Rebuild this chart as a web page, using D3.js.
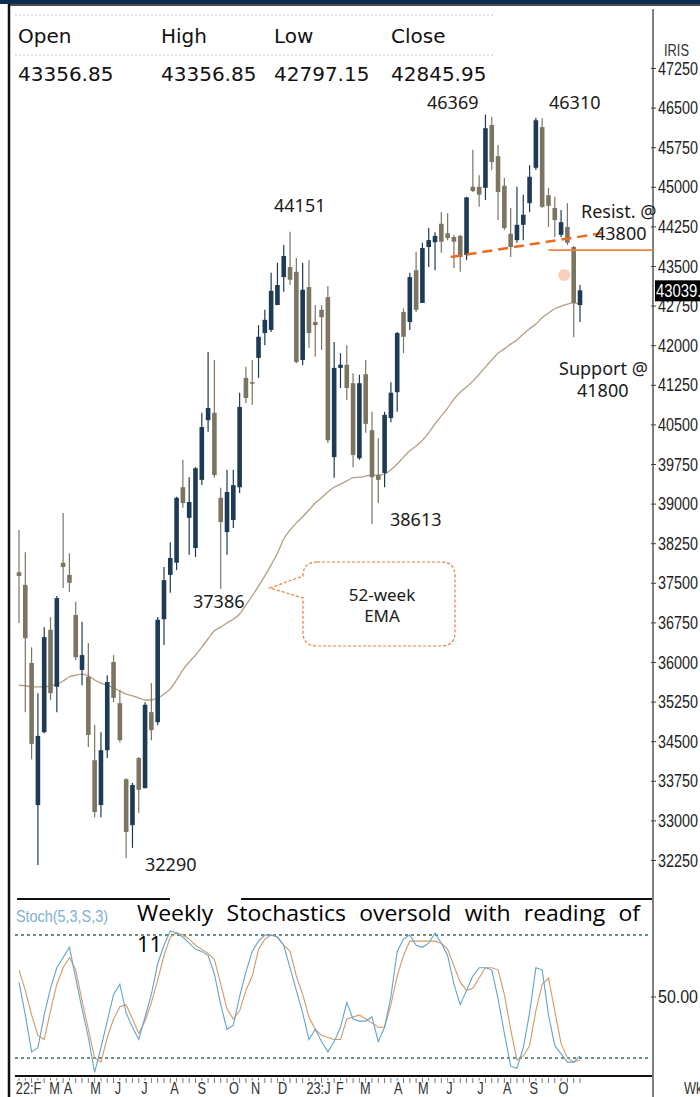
<!DOCTYPE html>
<html lang="en">
<head>
<meta charset="UTF-8">
<title>Weekly chart</title>
<script src="https://cdn.jsdelivr.net/npm/d3@7"></script>
<style>
  html, body { margin: 0; padding: 0; background: #fff; }
  svg { display: block; }
</style>
</head>
<body>
<svg id="main_svg" width="700" height="1097"></svg>
<script>
// weekly candles, mid Feb 2022 .. end Oct 2023
var opens = [37700, 37460, 35980, 33290, 34670, 36610, 35530, 37880, 37650, 36890,
    35850, 35720, 34140, 33290, 34330, 36000, 35220, 33780, 32910, 34180,
    33610, 35050, 34860, 36810, 37650, 37880, 39310, 38730, 38160, 39450,
    40580, 40720, 39110, 38460, 38690, 39310, 41380, 41300, 41760, 42230,
    42290, 42760, 43290, 43480, 43390, 41720, 43100, 42440, 42670, 42910,
    39880, 41570, 41630, 41280, 39860, 41450, 40390, 39540, 39580, 40620,
    41110, 42630, 42440, 43420, 42800, 43860, 43950, 44300, 44120, 44050,
    44070, 43710, 45000, 45000, 44980, 46170, 45580, 45020, 44110, 43990,
    44280, 44690, 45360, 46130, 44840, 44600, 44090, 44240, 43860, 42760];
var highs = [38500, 38080, 36280, 35410, 36660, 36850, 37250, 38820, 38060, 37140,
    36760, 36360, 34810, 34670, 35750, 36130, 35470, 33800, 33710, 34200,
    35240, 35600, 36850, 37800, 38270, 39130, 39830, 39500, 39690, 40720,
    41870, 41720, 39300, 39640, 39640, 41100, 41590, 41720, 42380, 42670,
    43370, 43560, 43900, 44151, 43650, 43560, 43610, 42760, 42760, 43120,
    42060, 41850, 42000, 41470, 41440, 41720, 40740, 40240, 40740, 41300,
    42250, 42700, 43370, 43770, 43940, 44220, 44140, 44520, 44500, 44090,
    44090, 44810, 45700, 45220, 46369, 46320, 45790, 45170, 44600, 45000,
    44850, 45410, 46310, 46300, 44980, 44810, 44560, 44690, 43880, 43140];
var lows = [36740, 35050, 34160, 32155, 34650, 35280, 35050, 37400, 37330, 36040,
    35560, 34390, 33060, 33060, 34180, 35240, 34480, 32290, 32480, 33140,
    33610, 34520, 34800, 36320, 37310, 37740, 38920, 38030, 37990, 39350,
    40360, 39490, 37386, 38030, 38540, 39200, 40900, 40870, 41380, 42000,
    42250, 42760, 43010, 43140, 41660, 41620, 41950, 41780, 41910, 40150,
    39490, 41190, 40960, 39690, 39830, 40340, 38613, 39010, 39310, 40540,
    40740, 41850, 42290, 42630, 42800, 43480, 43420, 43750, 43990, 43460,
    43390, 43610, 44900, 44620, 44750, 45320, 44370, 44180, 43670, 43940,
    43990, 44520, 45320, 44600, 44240, 44050, 44050, 43900, 42150, 42440];
var closes = [37630, 36450, 34450, 34600, 36470, 35410, 37210, 37800, 37500, 36090,
    36130, 34620, 33160, 34330, 35620, 35320, 34520, 32780, 33670, 33580,
    35190, 34710, 36800, 37550, 37970, 39110, 39010, 39030, 39670, 40450,
    40810, 39540, 38650, 39220, 39350, 40830, 41000, 41270, 42160, 42480,
    43030, 43140, 43690, 43240, 41680, 43050, 42230, 42380, 42530, 40200,
    41570, 41630, 41190, 39920, 41280, 40510, 39500, 39450, 40680, 41100,
    42230, 42160, 43290, 42670, 43840, 43990, 44070, 43960, 44030, 43960,
    43670, 44800, 44920, 44850, 46110, 45470, 44900, 44220, 43860, 44280,
    44470, 45190, 46260, 44620, 44640, 44370, 44330, 43940, 42800, 43039];
// 52-week EMA
var ema52 = [35560, 35550, 35530, 35530, 35530, 35550, 35580, 35640, 35720, 35750,
    35770, 35740, 35660, 35600, 35560, 35510, 35450, 35390, 35360, 35320,
    35280, 35280, 35320, 35390, 35490, 35660, 35850, 36000, 36130, 36280,
    36440, 36590, 36660, 36740, 36810, 36910, 37080, 37250, 37440, 37630,
    37840, 38060, 38330, 38500, 38630, 38750, 38880, 39010, 39110, 39220,
    39310, 39370, 39430, 39490, 39500, 39520, 39540, 39540, 39560, 39640,
    39750, 39880, 40000, 40090, 40200, 40340, 40510, 40660, 40810, 40980,
    41110, 41210, 41320, 41450, 41590, 41720, 41850, 41930, 42020, 42100,
    42210, 42310, 42400, 42520, 42610, 42690, 42740, 42780, 42800, 42780];
// Stoch(5,3,S,3)
var stochK = [57, 41, 23, 25, 41, 54, 64, 69, 74, 59,
    44, 30, 13, 25, 38, 51, 56, 42, 35, 29,
    40, 51, 66, 75, 82, 81, 79, 76, 73, 72,
    70, 61, 46, 34, 36, 50, 62, 72, 77, 80,
    80, 79, 75, 64, 53, 42, 29, 34, 28, 23,
    28, 35, 47, 39, 38, 38, 40, 28, 35, 50,
    72, 78, 80, 75, 74, 76, 81, 76, 70, 56,
    46, 53, 60, 64, 64, 63, 49, 32, 16, 15,
    25, 42, 64, 63, 41, 26, 22, 18, 18, 21];
var stochD = [63, 53, 41, 31, 29, 43, 56, 64, 69, 63,
    48, 34, 20, 18, 30, 39, 45, 46, 39, 32,
    38, 47, 58, 70, 79, 81, 80, 78, 75, 73,
    71, 68, 56, 44, 39, 43, 53, 60, 73, 78,
    80, 79, 75, 72, 60, 51, 40, 34, 31, 30,
    29, 29, 39, 40, 41, 39, 37, 35, 35, 46,
    60, 70, 77, 77, 77, 77, 77, 76, 73, 65,
    57, 53, 54, 59, 64, 64, 63, 51, 34, 19,
    21, 26, 43, 56, 59, 43, 27, 20, 18, 19];
var stochLevels = [80, 20];
var stochTicks = [50];

var priceTicks = [47250, 46500, 45750, 45000, 44250, 43500, 42750, 42000, 41250, 40500,
    39750, 39000, 38250, 37500, 36750, 36000, 35250, 34500, 33750, 33000, 32250];
var monthLabels = ["22:F", "M", "A", "M", "J", "J", "A", "S", "O", "N", "D",
    "23:J", "F", "M", "A", "M", "J", "J", "A", "S", "O"];
var monthWeek = [-0.5, 4.8, 7.1, 11.3, 15.2, 19.4, 24, 28.3, 33.3, 36.8, 41.1,
    45.6, 50.3, 54.1, 59.5, 63.3, 67.8, 72.7, 76.8, 81, 85.6];

var headerLabels = ["Open", "High", "Low", "Close"];
var headerValues = ["43356.85", "43356.85", "42797.15", "42845.95"];
var lastPrice = 43039.35;
var resistLevel = 43800;
var trendWeeks = [68.5, 93.5];
var trendValues = [43670, 44140];

var svg = d3.select("#main_svg");
var NAVY = "#1d3b57", GREY = "#7b7562";
var narrow = "'Liberation Sans',Arial,sans-serif";
var annoFont = "'Noto Sans','Open Sans',sans-serif";

// squeeze a text to look like the condensed chart font
function condense(sel, k) {
    sel.each(function () {
        var w = this.getComputedTextLength();
        d3.select(this).attr("textLength", w * k).attr("lengthAdjust", "spacingAndGlyphs");
    });
}

var n = opens.length;
var x = d3.scaleLinear().domain([0, n - 1]).range([19, 580]);
var y = d3.scaleLinear().domain([32250, 47250]).range([860, 68]);
var ys = d3.scaleLinear().domain([20, 80]).range([1058, 935]);

// frame
svg.append("rect").attr("x", 0).attr("y", 0).attr("width", 700).attr("height", 4).attr("fill", "#0e2b52");
svg.append("line").attr("x1", 8).attr("x2", 700).attr("y1", 5).attr("y2", 5)
    .attr("stroke", "#111").attr("stroke-width", 1.5);
svg.append("line").attr("x1", 9).attr("x2", 9).attr("y1", 4).attr("y2", 1097)
    .attr("stroke", "#111").attr("stroke-width", 2.5);
svg.append("line").attr("x1", 653).attr("x2", 653).attr("y1", 9).attr("y2", 1097)
    .attr("stroke", "#555").attr("stroke-width", 1.5);

// header
[15, 55].forEach(function (yy) {
    svg.append("line").attr("x1", 15).attr("x2", 495).attr("y1", yy).attr("y2", yy)
        .attr("stroke", "#c8c8c8").attr("stroke-dasharray", "2,2");
});
var headerX = [18, 161, 274, 391];
headerLabels.forEach(function (t, i) {
    svg.append("text").attr("x", headerX[i]).attr("y", 43).text(t)
        .attr("font-family", "'DejaVu Sans',sans-serif").attr("font-size", 20).attr("fill", "#111");
    svg.append("text").attr("x", headerX[i]).attr("y", 81).text(headerValues[i])
        .attr("font-family", "'DejaVu Sans',sans-serif").attr("font-size", 20).attr("fill", "#111");
});

// price axis
var ax = svg.append("g").attr("transform", "translate(653,0)")
    .call(d3.axisRight(y).tickValues(priceTicks).tickSize(4).tickPadding(1).tickFormat(d3.format("d")));
ax.select(".domain").remove();
ax.selectAll(".tick line").attr("x1", -2).attr("x2", 3).attr("stroke", "#444");
ax.selectAll("text").attr("font-family", narrow).attr("font-size", 19).attr("fill", "#222")
    .attr("textLength", 40).attr("lengthAdjust", "spacingAndGlyphs");
svg.append("text").attr("x", 664).attr("y", 56).text("IRIS")
    .attr("font-family", narrow).attr("font-size", 16).attr("fill", "#333")
    .attr("textLength", 25).attr("lengthAdjust", "spacingAndGlyphs");

// 52 week ema
svg.append("path").datum(ema52)
    .attr("d", d3.line().x(function (d, i) { return x(i); }).y(function (d) { return y(d); }).curve(d3.curveMonotoneX))
    .attr("fill", "none").attr("stroke", "#b39f82").attr("stroke-width", 1.3);

// candles
var idx = d3.range(n);
function col(i) { return closes[i] >= opens[i] ? NAVY : GREY; }
svg.append("g").selectAll("line").data(idx).join("line")
    .attr("x1", function (i) { return x(i); }).attr("x2", function (i) { return x(i); })
    .attr("y1", function (i) { return y(highs[i]); }).attr("y2", function (i) { return y(lows[i]); })
    .attr("stroke", col).attr("stroke-width", 1.2);
svg.append("g").selectAll("rect").data(idx).join("rect")
    .attr("x", function (i) { return x(i) - 2.3; }).attr("width", 4.6)
    .attr("y", function (i) { return y(Math.max(opens[i], closes[i])); })
    .attr("height", function (i) { return Math.max(1.5, Math.abs(y(opens[i]) - y(closes[i]))); })
    .attr("fill", col);

// resistance
svg.append("line")
    .attr("x1", x(trendWeeks[0])).attr("y1", y(trendValues[0]))
    .attr("x2", x(trendWeeks[1])).attr("y2", y(trendValues[1]))
    .attr("stroke", "#f0691e").attr("stroke-width", 2.5).attr("stroke-dasharray", "10,6");
svg.append("line").attr("x1", x(84)).attr("x2", 653)
    .attr("y1", y(resistLevel)).attr("y2", y(resistLevel))
    .attr("stroke", "#f0823c").attr("stroke-width", 1.8);
svg.append("circle").attr("cx", x(86.5)).attr("cy", y(43330)).attr("r", 6).attr("fill", "#f7cfbb");

// last price box
svg.append("rect").attr("x", 655).attr("y", y(lastPrice) - 10).attr("width", 45).attr("height", 21).attr("fill", "#000");
svg.append("text").attr("x", 656).attr("y", y(lastPrice) + 7).text(d3.format(".2f")(lastPrice))
    .attr("font-family", narrow).attr("font-size", 19).attr("fill", "#fff")
    .attr("textLength", 62).attr("lengthAdjust", "spacingAndGlyphs");

// annotations
var notes = [
    { t: "46369", x: 427, y: 109 }, { t: "46310", x: 549, y: 109 },
    { t: "44151", x: 274, y: 212 }, { t: "Resist. @", x: 581, y: 218 },
    { t: "43800", x: 595, y: 240 }, { t: "Support @", x: 559, y: 375 },
    { t: "41800", x: 577, y: 397 }, { t: "38613", x: 390, y: 526 },
    { t: "37386", x: 193, y: 608 }, { t: "32290", x: 145, y: 871 }
];
notes.forEach(function (d) {
    svg.append("text").attr("x", d.x).attr("y", d.y).text(d.t)
        .attr("font-family", annoFont).attr("font-size", 18).attr("fill", "#1a1a1a");
});
svg.append("path")
    .attr("d", "M317,562 H441 Q455,562 455,576 V632 Q455,646 441,646 H317 Q303,646 303,632 V598 L270,588 L303,576 Q303,562 317,562 Z")
    .attr("fill", "none").attr("stroke", "#f07a30").attr("stroke-width", 1.2).attr("stroke-dasharray", "3,2");
svg.append("text").attr("x", 382).attr("y", 601).attr("text-anchor", "middle").text("52-week")
    .attr("font-family", annoFont).attr("font-size", 17).attr("fill", "#1a1a1a");
svg.append("text").attr("x", 382).attr("y", 622).attr("text-anchor", "middle").text("EMA")
    .attr("font-family", annoFont).attr("font-size", 17).attr("fill", "#1a1a1a");

// stochastics panel
svg.append("line").attr("x1", 17).attr("x2", 170).attr("y1", 899).attr("y2", 899).attr("stroke", "#111").attr("stroke-width", 2);
svg.append("line").attr("x1", 241).attr("x2", 652).attr("y1", 899).attr("y2", 899).attr("stroke", "#111").attr("stroke-width", 2);
svg.append("line").attr("x1", 15).attr("x2", 652).attr("y1", 1076).attr("y2", 1076).attr("stroke", "#111").attr("stroke-width", 2);
stochLevels.forEach(function (v) {
    svg.append("line").attr("x1", 15).attr("x2", 650).attr("y1", ys(v)).attr("y2", ys(v))
        .attr("stroke", "#3f6b4c").attr("stroke-width", 1.6).attr("stroke-dasharray", "3,3");
});
var sax = svg.append("g").attr("transform", "translate(653,0)")
    .call(d3.axisRight(ys).tickValues(stochTicks).tickSize(4).tickPadding(1).tickFormat(d3.format(".2f")));
sax.select(".domain").remove();
sax.selectAll(".tick line").attr("x1", -2).attr("x2", 3).attr("stroke", "#444");
sax.selectAll("text").attr("font-family", narrow).attr("font-size", 19).attr("fill", "#222")
    .attr("textLength", 40).attr("lengthAdjust", "spacingAndGlyphs");

var sline = d3.line().x(function (d, i) { return x(i); }).y(function (d) { return ys(d); });
svg.append("path").datum(stochD).attr("d", sline).attr("fill", "none").attr("stroke", "#d69866").attr("stroke-width", 1.1);
svg.append("path").datum(stochK).attr("d", sline).attr("fill", "none").attr("stroke", "#62a4cb").attr("stroke-width", 1.1);

svg.append("text").attr("x", 16).attr("y", 922).text("Stoch(5,3,S,3)")
    .attr("font-family", narrow).attr("font-size", 17).attr("fill", "#7db0d2")
    .attr("textLength", 92).attr("lengthAdjust", "spacingAndGlyphs");
// the note sits in a justified text box, so stretch it to the box width
svg.append("text").attr("x", 137).attr("y", 921).text("Weekly Stochastics oversold with reading of")
    .attr("font-family", "'Open Sans',sans-serif").attr("font-size", 22).attr("fill", "#000")
    .attr("word-spacing", 7).attr("textLength", 503).attr("lengthAdjust", "spacingAndGlyphs");
svg.append("text").attr("x", 137).attr("y", 952).text("11")
    .attr("font-family", "'Open Sans',sans-serif").attr("font-size", 22).attr("fill", "#000")
    .attr("textLength", 25).attr("lengthAdjust", "spacingAndGlyphs");

// time axis
svg.append("g").selectAll("line").data(idx).join("line")
    .attr("x1", function (i) { return x(i); }).attr("x2", function (i) { return x(i); })
    .attr("y1", 1078).attr("y2", 1083).attr("stroke", "#777").attr("stroke-width", 1);
var mt = svg.append("g").selectAll("text").data(monthLabels).join("text")
    .attr("x", function (d, i) { return x(monthWeek[i]); }).attr("y", 1094)
    .text(function (d) { return d; })
    .attr("font-family", narrow).attr("font-size", 17).attr("fill", "#333")
    .attr("stroke", "#fff").attr("stroke-width", 3).attr("paint-order", "stroke");
condense(mt, 0.75);
var wk = svg.append("text").attr("x", 684).attr("y", 1094).text("Wkly")
    .attr("font-family", narrow).attr("font-size", 17).attr("fill", "#333");
condense(wk, 0.75);
</script>
</body>
</html>
